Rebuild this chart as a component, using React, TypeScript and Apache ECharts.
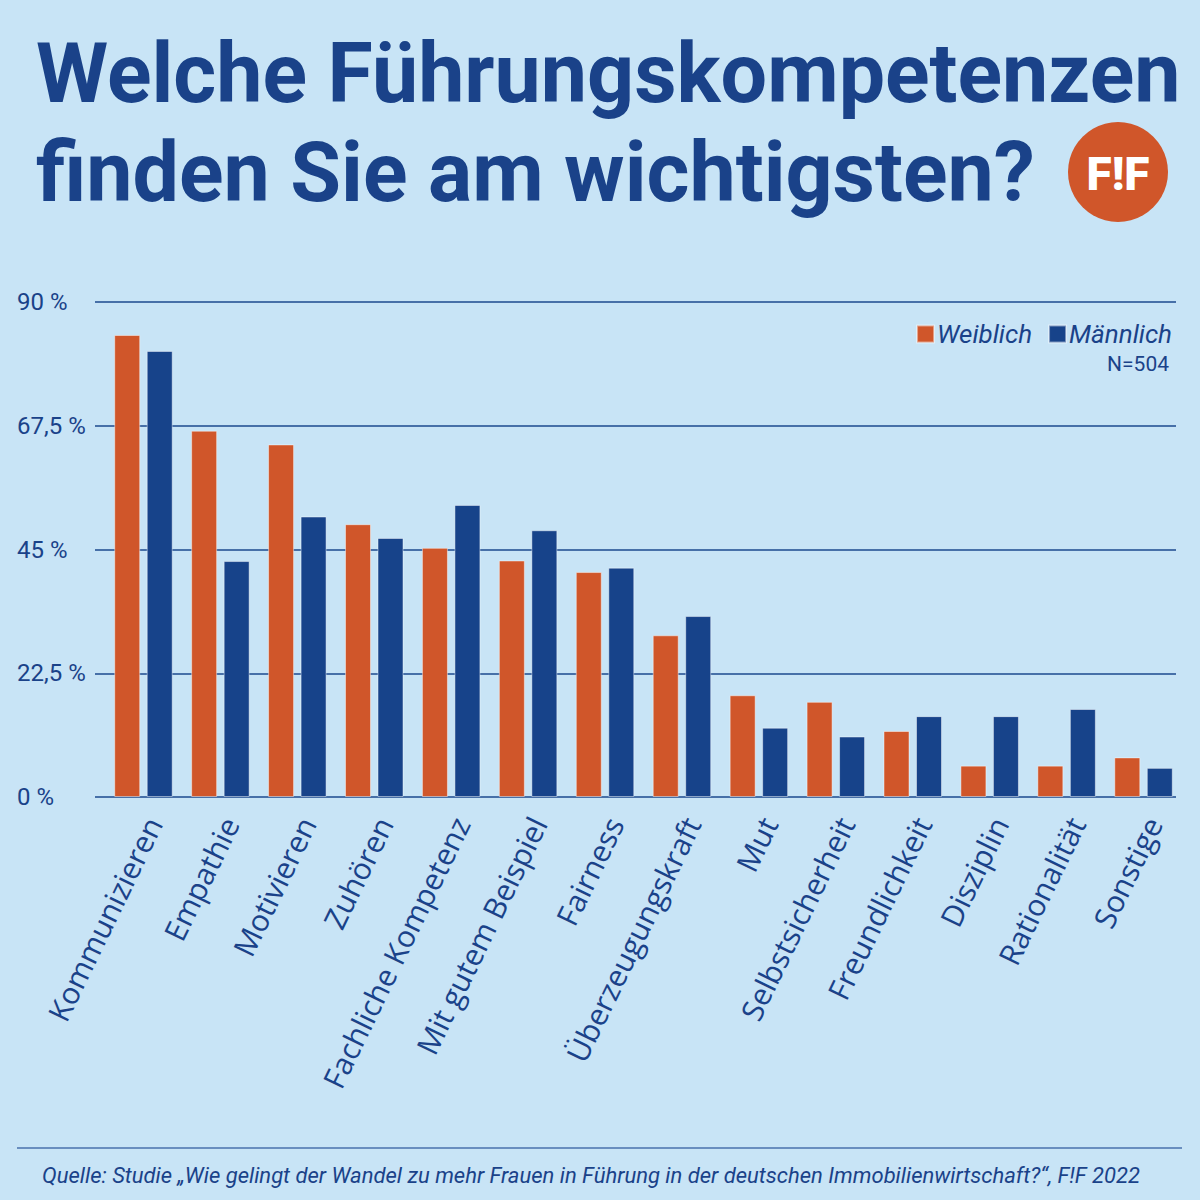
import React, { useEffect, useRef } from "react";
import * as echarts from "echarts";

const categories = [
  "Kommunizieren",
  "Empathie",
  "Motivieren",
  "Zuhören",
  "Fachliche Kompetenz",
  "Mit gutem Beispiel",
  "Fairness",
  "Überzeugungskraft",
  "Mut",
  "Selbstsicherheit",
  "Freundlichkeit",
  "Disziplin",
  "Rationalität",
  "Sonstige",
];
const weiblich = [84.0, 66.6, 64.1, 49.6, 45.3, 43.0, 40.9, 29.4, 18.5, 17.3, 12.0, 5.7, 5.7, 7.2];
const maennlich = [81.1, 42.9, 51.0, 47.1, 53.1, 48.5, 41.7, 32.9, 12.6, 11.0, 14.7, 14.7, 16.0, 5.3];
const yTicks = [0, 22.5, 45, 67.5, 90];

const BG = "#c8e4f6";
const ORANGE = "#d0562a";
const BLUE = "#17438a";
const TEXT = "#1a4289";

export default function App() {
  const ref = useRef<HTMLDivElement>(null);
  useEffect(() => {
    document.body.style.margin = "0";
    if (!ref.current) return;
    const chart = echarts.init(ref.current, null, { renderer: "svg" });
    const top = 302;
    const bottom = 1200 - 797;
    const option: any = {
      animation: false,
      backgroundColor: BG,
      grid: [
        { left: 95, right: 24, top, bottom },
        { left: 105, right: 18, top, bottom },
        { left: 115, right: 8, top, bottom },
      ],
      xAxis: [
        { gridIndex: 0, type: "category", data: categories, show: false },
        {
          gridIndex: 1,
          type: "category",
          data: categories,
          axisLine: { show: false },
          axisTick: { show: false },
          axisLabel: { show: false },
        },
        {
          gridIndex: 2,
          type: "category",
          data: categories,
          axisLine: { show: false },
          axisTick: { show: false },
          axisLabel: {
            rotate: 64,
            interval: 0,
            margin: 22,
            color: TEXT,
            fontSize: 30,
            fontFamily: "Open Sans",
          },
        },
      ],
      yAxis: [
        {
          gridIndex: 0,
          type: "value",
          min: 0,
          max: 90,
          interval: 22.5,
          axisLine: { show: false },
          axisTick: { show: false },
          splitLine: { lineStyle: { color: "#1d4a8e", width: 1.6 } },
          axisLabel: {
            align: "left",
            margin: 78,
            color: TEXT,
            fontSize: 24,
            fontFamily: "Roboto",
            formatter: (v: number) =>
              yTicks.includes(v) ? String(v).replace(".", ",") + " %" : "",
          },
        },
        { gridIndex: 1, type: "value", min: 0, max: 90, show: false },
        { gridIndex: 2, type: "value", min: 0, max: 90, show: false },
      ],
      legend: {
        data: ["Weiblich", "Männlich"],
        right: 23,
        top: 316,
        icon: "rect",
        itemWidth: 17,
        itemHeight: 17,
        itemGap: 16,
        textStyle: {
          color: TEXT,
          fontSize: 26,
          fontStyle: "italic",
          fontFamily: "Roboto",
          padding: [0, 0, 0, -2],
        },
      },
      series: [
        {
          name: "Weiblich",
          type: "bar",
          xAxisIndex: 1,
          yAxisIndex: 1,
          data: weiblich,
          barWidth: 26,
          barGap: "25%",
          itemStyle: { color: ORANGE, borderColor: "rgba(255,255,255,0.45)", borderWidth: 1 },
        },
        {
          name: "Männlich",
          type: "bar",
          xAxisIndex: 1,
          yAxisIndex: 1,
          data: maennlich,
          barWidth: 26,
          barGap: "25%",
          itemStyle: { color: BLUE, borderColor: "rgba(255,255,255,0.45)", borderWidth: 1 },
        },
      ],
      graphic: [
        {
          type: "text",
          left: 36,
          top: 32,
          style: {
            text: "Welche Führungskompetenzen",
            font: "bold 82.5px Roboto",
            fill: TEXT,
          },
        },
        {
          type: "text",
          left: 36,
          top: 131,
          style: {
            text: "finden Sie am wichtigsten?",
            font: "bold 82.5px Roboto",
            fill: TEXT,
          },
        },
        {
          type: "circle",
          shape: { cx: 1118, cy: 172, r: 50 },
          style: { fill: ORANGE },
        },
        {
          type: "text",
          x: 1118,
          y: 174,
          style: {
            text: "F!F",
            font: "900 46px Roboto",
            fill: "#ffffff",
            align: "center",
            verticalAlign: "middle",
          },
        },
        {
          type: "text",
          x: 1169,
          y: 364,
          style: {
            text: "N=504",
            font: "21px Roboto",
            fill: TEXT,
            align: "right",
            verticalAlign: "middle",
          },
        },
        {
          type: "line",
          shape: { x1: 17, y1: 1148, x2: 1182, y2: 1148 },
          style: { stroke: "#4a72ad", lineWidth: 1.5 },
        },
        {
          type: "text",
          x: 42,
          y: 1175,
          style: {
            text:
              "Quelle: Studie \u201EWie gelingt der Wandel zu mehr Frauen in Führung in der deutschen Immobilienwirtschaft?\u201C, F!F 2022",
            font: "italic 22px Roboto",
            fill: TEXT,
            verticalAlign: "middle",
          },
        },
      ],
    };
    chart.setOption(option);
    return () => chart.dispose();
  }, []);
  return <div ref={ref} style={{ width: 1200, height: 1200 }} />;
}
